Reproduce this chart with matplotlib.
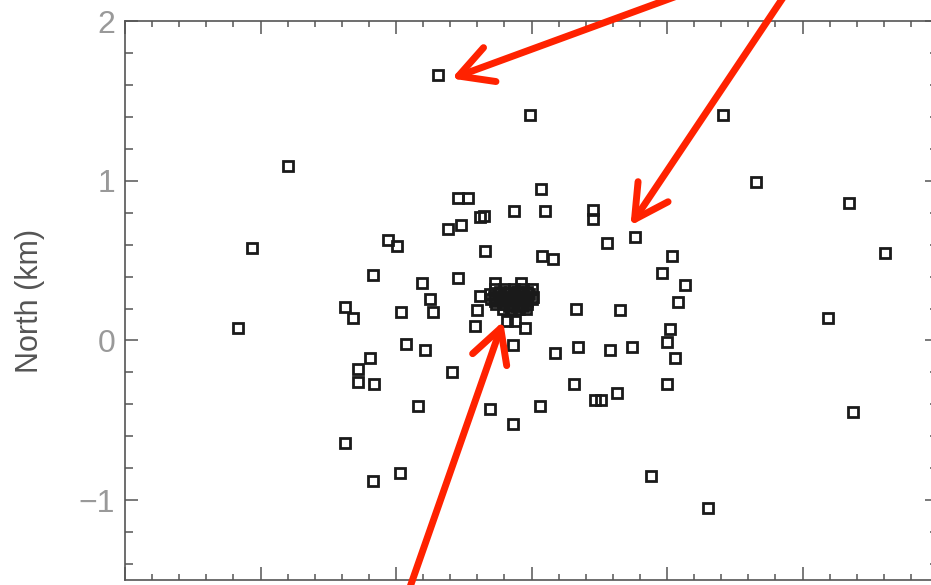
import matplotlib
matplotlib.use("Agg")
import matplotlib.pyplot as plt
from matplotlib.ticker import MultipleLocator

# event locations (km)
east = [-0.69, -0.01, 1.41, -1.80, 1.66, 0.07, 2.34,
        -0.54, -0.47, -0.13, 0.10, 0.45, 0.45,
        -0.38, -0.35, -0.62, -0.52, 0.76, 0.56,
        -1.06, -0.99, -2.06, 1.04, -0.34, 0.08, 0.16,
        0.96, -1.17, -0.54, 1.13, -0.81, -0.75, -0.73,
        -1.38, -1.32, -0.96, 0.33, 0.65, 1.08,
        -2.17, -0.93, -0.79, -1.19, -1.28, -1.28, -1.16,
        -0.84, -1.38, -0.97, -1.17, -0.59,
        -0.42, -0.05, -0.14, 0.17, 0.34, 0.58, 0.74,
        0.31, 0.47, 0.51, 0.63, -0.31, -0.14, 0.06,
        1.00, 0.88, 1.02, 1.00, 1.06,
        2.61, 2.19, 2.37, 1.30,
        -0.27, -0.08, -0.38, -0.40, -0.18, -0.12]
north = [1.66, 1.41, 1.41, 1.09, 0.99, 0.95, 0.86,
         0.89, 0.89, 0.81, 0.81, 0.82, 0.76,
         0.77, 0.78, 0.70, 0.72, 0.645, 0.61,
         0.63, 0.59, 0.58, 0.53, 0.56, 0.53, 0.51,
         0.42, 0.41, 0.39, 0.35, 0.36, 0.26, 0.18,
         0.21, 0.14, 0.18, 0.20, 0.19, 0.24,
         0.08, -0.02, -0.06, -0.11, -0.18, -0.26, -0.27,
         -0.41, -0.64, -0.83, -0.88, -0.20,
         0.09, 0.075, -0.03, -0.08, -0.04, -0.06, -0.04,
         -0.27, -0.37, -0.37, -0.33, -0.43, -0.52, -0.41,
         -0.27, -0.85, 0.07, -0.01, -0.11,
         0.55, 0.14, -0.45, -1.05,
         0.36, 0.36, 0.28, 0.19, 0.125, 0.125]

# the dense knot of events near the centre (estimated, it prints as a black blob)
knot_east = [-0.27, -0.20, -0.13, -0.06, 0.00,
             -0.23, -0.16, -0.10, -0.03,
             -0.31, -0.25, -0.19, -0.13, -0.07, -0.02,
             -0.28, -0.22, -0.16, -0.09, -0.04, 0.01,
             -0.30, -0.24, -0.18, -0.12, -0.06, 0.00,
             -0.27, -0.21, -0.15, -0.09, -0.03,
             -0.26, -0.20, -0.14, -0.08, -0.03,
             -0.17, -0.11, -0.06,
             -0.21, -0.15, -0.09, -0.04]
knot_north = [0.32, 0.32, 0.32, 0.32, 0.32,
              0.305, 0.305, 0.305, 0.305,
              0.29, 0.29, 0.29, 0.29, 0.29, 0.29,
              0.275, 0.275, 0.275, 0.275, 0.275, 0.275,
              0.26, 0.26, 0.26, 0.26, 0.26, 0.26,
              0.245, 0.245, 0.245, 0.245, 0.245,
              0.23, 0.23, 0.23, 0.23, 0.23,
              0.215, 0.215, 0.215,
              0.20, 0.20, 0.20, 0.20]

# arrows: (tail, tip) in km
arrows = [((1.18, 2.19), (-0.59, 1.64)),
          ((1.89, 2.19), (0.73, 0.72)),
          ((-0.92, -1.60), (-0.21, 0.12))]

plt.rcParams['font.family'] = ['Liberation Sans', 'DejaVu Sans']

fig = plt.figure(figsize=(9.31, 5.85), dpi=100)
ax = fig.add_axes([0.1343, 0.0085, 0.8733, 0.9555])

mk = dict(linestyle='none', marker='s', markersize=7.2, markerfacecolor='none',
          markeredgecolor='#1a1a1a', markeredgewidth=2.0)
ax.plot(east, north, **mk)
ax.plot(knot_east, knot_north, **mk)

ax.set_xlim(-3, 3)
ax.set_ylim(-1.5, 2)
ax.xaxis.set_major_locator(MultipleLocator(1))
ax.xaxis.set_minor_locator(MultipleLocator(0.2))
ax.yaxis.set_major_locator(MultipleLocator(1))
ax.yaxis.set_minor_locator(MultipleLocator(0.2))

for s in ax.spines.values():
    s.set_color('#555555')
    s.set_linewidth(1.2)
ax.tick_params(which='both', direction='in', top=True, right=True,
               color='#555555', width=1.1, labelsize=23, labelcolor='#999999', pad=7)
# x tick labels sit below the cropped edge in the reference
ax.tick_params(axis='x', labelbottom=False)
ax.tick_params(axis='y', which='major', length=9.5)
ax.tick_params(axis='y', which='minor', length=6)
ax.tick_params(axis='x', which='major', length=9.5)
ax.tick_params(axis='x', which='minor', length=4.5)

ax.set_ylabel('North (km)', fontsize=22, color='#555555', labelpad=24)

for tail, tip in arrows:
    ax.annotate('', xy=tip, xytext=tail, xycoords='data', annotation_clip=False,
                arrowprops=dict(arrowstyle='->,head_length=1.2,head_width=0.65',
                                mutation_scale=20, color='#ff2200', lw=5,
                                shrinkA=0, shrinkB=0, capstyle='round',
                                joinstyle='round'))

fig.savefig('out.png', dpi=100)
